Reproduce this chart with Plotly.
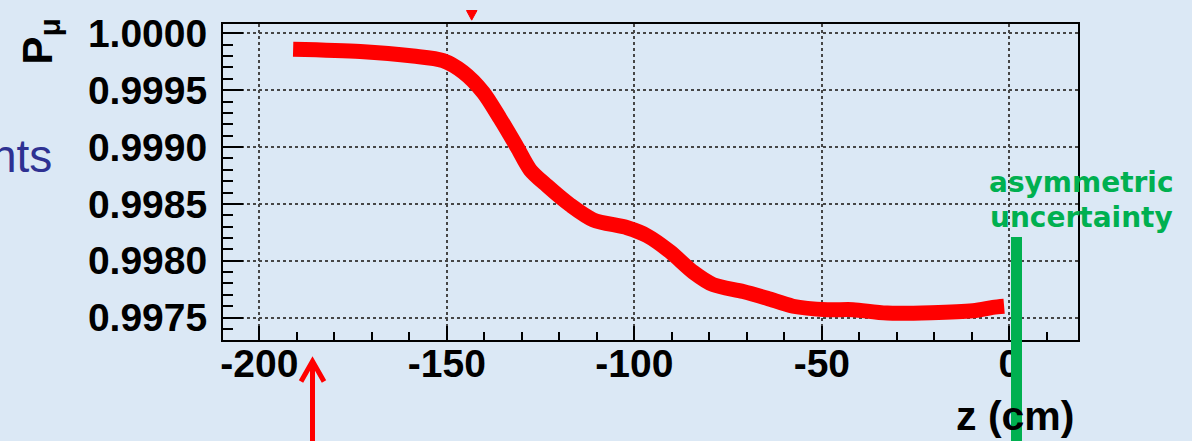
import plotly.graph_objects as go

# ---- data ----
z_cm = [-191.0, -173.1, -159.0, -151.0, -145.7, -140.3, -135.8, -131.3, -127.8,
        -123.3, -117.1, -111.0, -101.9, -96.6, -90.5, -84.3, -79.0, -71.0, -64.6,
        -57.7, -48.6, -41.7, -32.6, -9.7, -4.4, -1.4]
p_mu = [0.99986, 0.99984, 0.99980, 0.99976, 0.99966, 0.99948, 0.99925, 0.99900,
        0.99880, 0.99866, 0.99849, 0.99836, 0.99829, 0.99822, 0.99808, 0.99790,
        0.99779, 0.99773, 0.99767, 0.99760, 0.99757, 0.99757, 0.99754, 0.99756,
        0.99759, 0.99760]

x_tickvals = [-200, -150, -100, -50, 0]
x_ticktext = ["-200", "-150", "-100", "-50", "0"]
y_tickvals = [0.9975, 0.9980, 0.9985, 0.9990, 0.9995, 1.0000]
y_ticktext = ["0.9975", "0.9980", "0.9985", "0.9990", "0.9995", "1.0000"]

# ---- layout geometry (pixels) ----
W, H = 1192, 441
L, R, T, B = 223, 1078, 12, 340

def px(x):
    return (x - L) / (R - L)

def py(y):
    return (B - y) / (B - T)

BG = "rgb(219,232,245)"
RED = "#ff0000"
GREEN = "#00b050"

fig = go.Figure()
fig.add_trace(go.Scatter(x=z_cm, y=p_mu, mode="lines",
                         line=dict(color=RED, width=15, shape="spline", smoothing=0.8),
                         hoverinfo="skip", showlegend=False))

tickfont = dict(family="Liberation Sans", size=39, color="black", weight="bold")

fig.update_layout(
    width=W, height=H,
    margin=dict(l=L, r=W - R, t=T, b=H - B, pad=0),
    paper_bgcolor=BG, plot_bgcolor=BG,
    showlegend=False,
    xaxis=dict(range=[-209.7, 18.3], tickvals=x_tickvals, ticktext=x_ticktext,
               ticks="inside", ticklen=14, tickwidth=2, tickcolor="black",
               minor=dict(ticks="inside", ticklen=8, tickwidth=2, tickcolor="black",
                          dtick=10, tick0=0, showgrid=False),
               showline=True, linecolor="black", linewidth=2, mirror=True,
               showgrid=True, gridcolor="rgb(70,70,70)", griddash="dot", gridwidth=1.5,
               zeroline=False, tickfont=tickfont, ticklabelstandoff=-12),
    yaxis=dict(range=[0.997303, 1.000082], tickvals=y_tickvals, ticktext=y_ticktext,
               ticks="inside", ticklen=20, tickwidth=2, tickcolor="black",
               minor=dict(ticks="inside", ticklen=10, tickwidth=2, tickcolor="black",
                          dtick=0.0001, tick0=0.9975, showgrid=False),
               showline=True, linecolor="black", linewidth=2, mirror=True,
               showgrid=True, gridcolor="rgb(70,70,70)", griddash="dot", gridwidth=1.5,
               zeroline=False, tickfont=tickfont, ticklabelstandoff=6),
)

annotations = [
    dict(text="<b>P<sub>μ</sub></b>", textangle=-90, x=px(40), y=py(56),
         xanchor="center", yanchor="bottom",
         font=dict(family="Liberation Sans", size=42, color="black")),
    dict(text="<b>z (cm)</b>", x=px(1076), y=py(419), xanchor="right", yanchor="middle",
         font=dict(family="Liberation Sans", size=41, color="black")),
    dict(text="nts", x=px(54), y=py(149), xanchor="right", yanchor="middle",
         font=dict(family="Liberation Sans Narrow, Liberation Sans", size=46,
                   color="rgb(46,49,146)")),
    dict(text="<b>asymmetric</b>", x=px(1081), y=py(176), xanchor="center", yanchor="middle",
         font=dict(family="DejaVu Sans", size=28, color=GREEN)),
    dict(text="<b>uncertainty</b>", x=px(1081), y=py(213), xanchor="center", yanchor="middle",
         font=dict(family="DejaVu Sans", size=28, color=GREEN)),
]
for a in annotations:
    a.update(xref="paper", yref="paper", showarrow=False)
fig.update_layout(annotations=annotations)

def ppath(pts, close=False):
    s = "M " + " L ".join(f"{px(x):.5f},{py(y):.5f}" for x, y in pts)
    return s + (" Z" if close else "")

shapes = [
    # green vertical bar
    dict(type="line", x0=px(1016.5), x1=px(1016.5), y0=py(233), y1=py(445),
         line=dict(color=GREEN, width=11)),
    # bottom red arrow shaft and head
    dict(type="line", x0=px(312.5), x1=px(312.5), y0=py(364), y1=py(445),
         line=dict(color=RED, width=5)),
    dict(type="path", path=ppath([(301, 383), (312.5, 362), (324, 383)]),
         line=dict(color=RED, width=5)),
    # top red arrow tip (cropped)
    dict(type="path", path=ppath([(466.5, -2), (477, -2), (471.7, 8)], close=True),
         fillcolor=RED, line=dict(color=RED, width=1)),
]
for s in shapes:
    s.update(xref="paper", yref="paper", layer="above")
fig.update_layout(shapes=shapes)

fig.write_html("out.html")
